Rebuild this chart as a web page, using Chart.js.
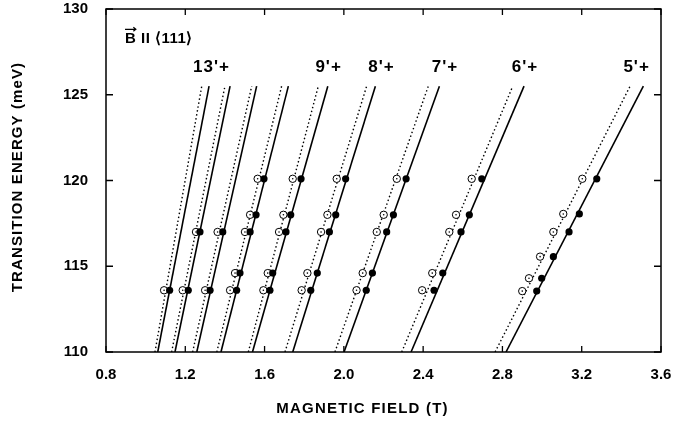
<!DOCTYPE html>
<html>
<head>
<meta charset="utf-8">
<script src="https://cdn.jsdelivr.net/npm/chart.js@4.4.1/dist/chart.umd.min.js"></script>
<style>
html,body{margin:0;padding:0;background:#fff;}
</style>
</head>
<body>
<canvas id="chart" width="674" height="421"></canvas>
<script>
/**** transition energy vs magnetic field, B || <111> ****/

// transitions, one solid + one dotted fit line each
const groups = ["13'", "12'", "11'", "10'", "9'", "8'", "7'", "6'", "5'"];
const fitEnergy = [110, 125.5];                 // meV, ends of every fit line
const solidLow   = [1.061, 1.148, 1.258, 1.380, 1.539, 1.742, 2.001, 2.339, 2.818];
const solidHigh  = [1.320, 1.426, 1.560, 1.720, 1.919, 2.159, 2.482, 2.909, 3.511];
const dottedLow  = [1.047, 1.131, 1.237, 1.359, 1.518, 1.703, 1.955, 2.292, 2.763];
const dottedHigh = [1.283, 1.400, 1.535, 1.686, 1.871, 2.115, 2.426, 2.852, 3.444];

// measured points (energy in meV, field in T)
const pointEnergy = [
  [113.6],
  [113.6, 117],
  [113.6, 117],
  [113.6, 114.6, 117, 118, 120.1],
  [113.6, 114.6, 117, 118, 120.1],
  [113.6, 114.6, 117, 118, 120.1],
  [113.6, 114.6, 117, 118, 120.1],
  [113.6, 114.6, 117, 118, 120.1],
  [113.55, 114.3, 115.56, 117, 118.05, 120.1]
];
const filledField = [
  [1.121],
  [1.215, 1.274],
  [1.325, 1.389],
  [1.459, 1.476, 1.527, 1.557, 1.597],
  [1.627, 1.641, 1.708, 1.732, 1.784],
  [1.833, 1.866, 1.927, 1.959, 2.009],
  [2.113, 2.144, 2.216, 2.250, 2.314],
  [2.455, 2.499, 2.591, 2.633, 2.696],
  [2.973, 2.998, 3.057, 3.136, 3.188, 3.276]
];
const openField = [
  [1.093],
  [1.187, 1.254],
  [1.300, 1.363],
  [1.426, 1.451, 1.501, 1.527, 1.565],
  [1.594, 1.616, 1.673, 1.695, 1.742],
  [1.787, 1.816, 1.885, 1.917, 1.964],
  [2.064, 2.095, 2.166, 2.201, 2.267],
  [2.395, 2.446, 2.532, 2.566, 2.645],
  [2.900, 2.934, 2.990, 3.057, 3.107, 3.203]
];

// line labels
const labelText   = ["13'+", "9'+", "8'+", "7'+", "6'+", "5'+"];
const labelField  = [1.332, 1.923, 2.190, 2.510, 2.914, 3.477];
const labelEnergy = 126.6;

// axes
const xMin = 0.8, xMax = 3.6, xStep = 0.4;
const yMin = 110, yMax = 130, yStep = 5;

const FONT = "'Liberation Sans', Arial, Helvetica, sans-serif";

const datasets = [];
groups.forEach((g, i)=>{
  const open = pointEnergy[i].map((e, k)=>({x: openField[i][k], y: e}));
  datasets.push({
    label: g + " solid", showLine: true, order: 4,
    data: [{x: solidLow[i], y: fitEnergy[0]}, {x: solidHigh[i], y: fitEnergy[1]}],
    borderColor: "#000", borderWidth: 1.6, pointRadius: 0
  });
  datasets.push({
    label: g + " dotted", showLine: true, order: 4,
    data: [{x: dottedLow[i], y: fitEnergy[0]}, {x: dottedHigh[i], y: fitEnergy[1]}],
    borderColor: "#000", borderWidth: 1.4, borderDash: [1.5, 2.5], pointRadius: 0
  });
  datasets.push({
    label: g + " open", order: 3, data: open,
    backgroundColor: "#fff", borderColor: "#000", borderWidth: 1, pointRadius: 3.7
  });
  datasets.push({               // tiny centre dot of the open circles
    label: g + " open dot", order: 2, data: open,
    backgroundColor: "#000", borderWidth: 0, pointRadius: 0.8
  });
  datasets.push({
    label: g + " filled", order: 1,
    data: pointEnergy[i].map((e, k)=>({x: filledField[i][k], y: e})),
    backgroundColor: "#000", borderWidth: 0, pointRadius: 3.6
  });
});

// frame, inward ticks, titles and labels
const decor = {
  id: "decor",
  afterDatasetsDraw(chart){
    const {ctx, chartArea: a, scales: {x, y}} = chart;
    ctx.save();
    ctx.strokeStyle = "#000";
    ctx.lineWidth = 1.5;
    ctx.strokeRect(a.left, a.top, a.right - a.left, a.bottom - a.top);
    ctx.lineWidth = 1.3;
    ctx.beginPath();
    x.ticks.forEach(t=>{
      const px = x.getPixelForValue(t.value);
      ctx.moveTo(px, a.bottom); ctx.lineTo(px, a.bottom - 6);
      ctx.moveTo(px, a.top);    ctx.lineTo(px, a.top + 6);
    });
    y.ticks.forEach(t=>{
      const py = y.getPixelForValue(t.value);
      ctx.moveTo(a.left, py);  ctx.lineTo(a.left + 7, py);
      ctx.moveTo(a.right, py); ctx.lineTo(a.right - 7, py);
    });
    ctx.stroke();

    ctx.fillStyle = "#000";
    // line labels
    ctx.font = "bold 17px " + FONT;
    ctx.letterSpacing = "1px";
    ctx.textAlign = "center";
    ctx.textBaseline = "middle";
    labelText.forEach((t, i)=>{
      ctx.fillText(t, x.getPixelForValue(labelField[i]), y.getPixelForValue(labelEnergy));
    });

    // B || <111>
    ctx.font = "bold 15px " + FONT;
    ctx.letterSpacing = "0.5px";
    ctx.textAlign = "left";
    ctx.textBaseline = "alphabetic";
    const bx = x.getPixelForValue(0.896), by = y.getPixelForValue(128.03);
    ctx.fillText("B II \u27E8111\u27E9", bx, by);
    const bw = ctx.measureText("B").width - 0.5;
    ctx.lineWidth = 1.2;
    ctx.beginPath();
    ctx.moveTo(bx, by - 13.5); ctx.lineTo(bx + bw, by - 13.5);
    ctx.moveTo(bx + bw - 2.5, by - 15.5); ctx.lineTo(bx + bw, by - 13.5); ctx.lineTo(bx + bw - 2.5, by - 11.5);
    ctx.stroke();

    // axis titles
    ctx.font = "bold 15px " + FONT;
    ctx.letterSpacing = "1.2px";
    ctx.textAlign = "center";
    ctx.textBaseline = "middle";
    ctx.fillText("MAGNETIC FIELD (T)", 362.5, 409);
    ctx.translate(17.5, 177);
    ctx.rotate(-Math.PI/2);
    ctx.letterSpacing = "1.1px";
    ctx.fillText("TRANSITION ENERGY (meV)", 0, 0);
    ctx.restore();
  }
};

// keep the scales from pushing the plot area in for their edge labels
function noEdgePad(s){
  s.paddingTop = 0; s.paddingBottom = 0; s.paddingLeft = 0; s.paddingRight = 0;
}

new Chart(document.getElementById("chart"), {
  type: "scatter",
  data: {datasets},
  options: {
    responsive: false,
    animation: false,
    layout: {padding: {left: 0, top: 9, right: 13, bottom: 0}},
    plugins: {legend: {display: false}, tooltip: {enabled: false}},
    scales: {
      x: {
        type: "linear", min: xMin, max: xMax,
        grid: {display: false, drawTicks: false},
        border: {display: false},
        ticks: {stepSize: xStep, padding: 14, color: "#000",
                font: {family: FONT, size: 15, weight: "bold"},
                callback: v=>v.toFixed(1)},
        afterFit: s=>{ s.height = 69; noEdgePad(s); }
      },
      y: {
        type: "linear", min: yMin, max: yMax,
        grid: {display: false, drawTicks: false},
        border: {display: false},
        ticks: {stepSize: yStep, padding: 18, color: "#000",
                font: {family: FONT, size: 15, weight: "bold"}},
        afterFit: s=>{ s.width = 106; noEdgePad(s); }
      }
    }
  },
  plugins: [decor]
});
</script>
</body>
</html>
